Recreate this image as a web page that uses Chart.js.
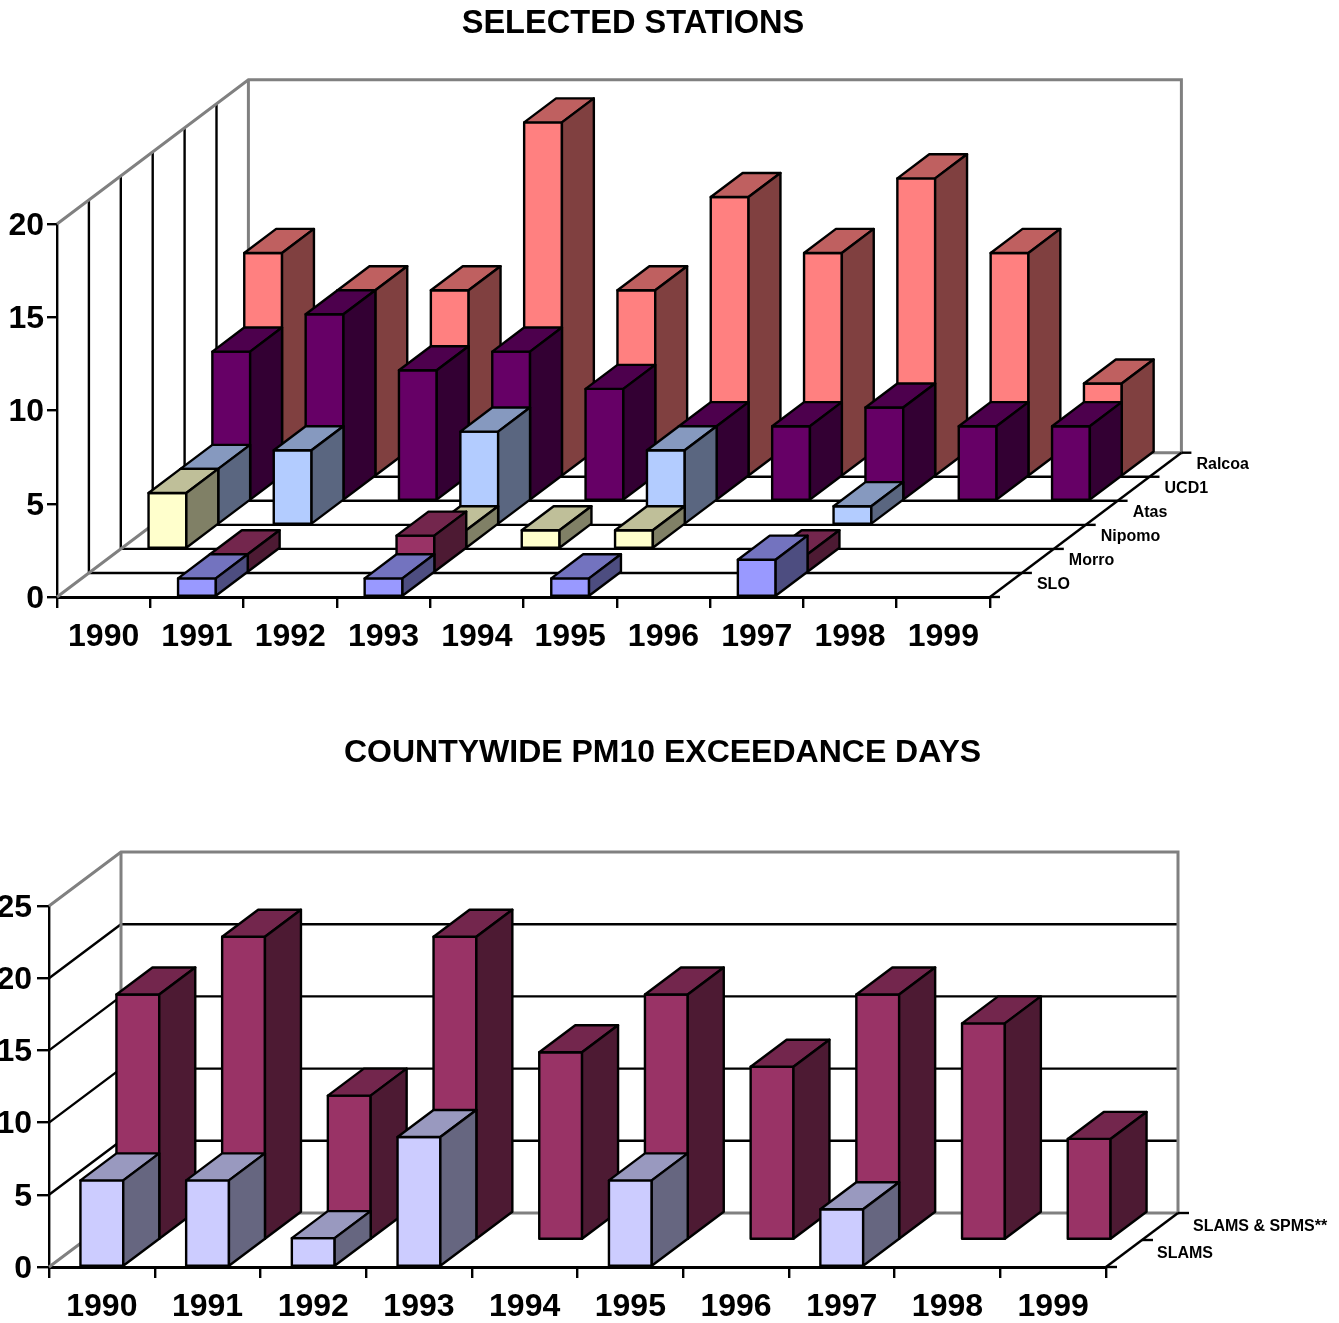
<!DOCTYPE html>
<html>
<head>
<meta charset="utf-8">
<title>PM10 exceedance days</title>
<script src="https://cdn.jsdelivr.net/npm/chart.js@4"></script>
<style>
  html, body { margin: 0; padding: 0; background: #fff; overflow: hidden; }
  body { position: relative; width: 1339px; height: 1323px; }
  canvas { position: absolute; display: block; }
  #stations { left: 0; top: 0; }
  #countywide { left: -8px; top: 680px; }
</style>
</head>
<body>
<canvas id="stations" width="1266" height="680"></canvas>
<canvas id="countywide" width="1341" height="643"></canvas>

<script>
// ===================== DATA =====================
const years = ['1990', '1991', '1992', '1993', '1994', '1995', '1996', '1997', '1998', '1999'];

const sloDays    = [null, 1, null, 1, null, 1, null, 2, null, null];
const morroDays  = [null, 1, null, 2, null, null, null, 1, null, null];
const nipomoDays = [3, null, null, 1, 1, 1, null, null, null, null];
const atasDays   = [3, 4, null, 5, null, 4, null, 1, null, null];
const ucd1Days   = [8, 10, 7, 8, 6, 4, 4, 5, 4, 4];
const ralcoaDays = [12, 10, 10, 19, 10, 15, 12, 16, 12, 5];

const slamsDays     = [6, 6, 2, 9, null, 6, null, 4, null, null];
const slamsSpmsDays = [17, 21, 10, 21, 13, 17, 12, 17, 15, 7];

// ===================== STYLE =====================
const FONT_FAMILY = '"Liberation Sans", Arial, sans-serif';
const BLACK = '#000000';
const WALL_GRAY = '#808080';
const LINE_WIDTH = 2.4;

Chart.defaults.font.family = FONT_FAMILY;
Chart.defaults.font.weight = 'bold';
Chart.defaults.color = BLACK;

function shade(hex, factor) {
  const n = parseInt(hex.slice(1), 16);
  const r = Math.round((n >> 16 & 255) * factor);
  const g = Math.round((n >> 8 & 255) * factor);
  const b = Math.round((n & 255) * factor);
  return `rgb(${r},${g},${b})`;
}

function strokeLine(ctx, points, color, width) {
  ctx.beginPath();
  points.forEach((p, i) => (i ? ctx.lineTo(p[0], p[1]) : ctx.moveTo(p[0], p[1])));
  ctx.strokeStyle = color;
  ctx.lineWidth = width;
  ctx.stroke();
}

function fillFace(ctx, points, color) {
  ctx.beginPath();
  points.forEach((p, i) => (i ? ctx.lineTo(p[0], p[1]) : ctx.moveTo(p[0], p[1])));
  ctx.closePath();
  ctx.fillStyle = color;
  ctx.fill();
  ctx.strokeStyle = BLACK;
  ctx.lineWidth = LINE_WIDTH;
  ctx.lineJoin = 'round';
  ctx.stroke();
}

// ===================== 3D PLUGIN =====================
// walls and depth axis behind the bars, every bar redrawn as a box from its BarElement
const box3d = {
  id: 'box3d',

  beforeDatasetsDraw(chart, args, opts) {
    const ctx = chart.ctx;
    const { left, right, top, bottom } = chart.chartArea;
    const n = chart.data.datasets.length;
    const dx = opts.dx;
    const dy = opts.dy;
    const backX = left + n * dx;
    const backRight = right + n * dx;
    const backTop = top - n * dy;
    const backBottom = bottom - n * dy;

    ctx.save();

    // lines across the walls at each value
    if (opts.valueGrid) {
      chart.scales.y.ticks.forEach(tick => {
        if (tick.value === 0 || tick.value === chart.scales.y.max) return;
        const y = chart.scales.y.getPixelForValue(tick.value);
        strokeLine(ctx, [[left, y], [backX, y - n * dy], [backRight, y - n * dy]], BLACK, LINE_WIDTH);
      });
    }

    // lines at each row of the depth axis
    if (opts.depthGrid) {
      for (let d = 1; d < n; d++) {
        const x = left + d * dx;
        const y = bottom - d * dy;
        strokeLine(ctx, [[x, top - d * dy], [x, y], [right + d * dx, y]], BLACK, LINE_WIDTH);
      }
    }

    // wall outline
    strokeLine(ctx, [[left, bottom], [backX, backBottom], [backRight, backBottom], [backRight, backTop], [backX, backTop], [left, top]], WALL_GRAY, 3);
    strokeLine(ctx, [[backX, backTop], [backX, backBottom]], WALL_GRAY, 3);

    // depth axis with ticks and row names
    strokeLine(ctx, [[right, bottom], [backRight, backBottom]], BLACK, LINE_WIDTH);
    for (let d = 0; d <= n; d++) {
      const x = right + d * dx;
      const y = bottom - d * dy;
      strokeLine(ctx, [[x, y], [x + opts.tick, y]], BLACK, LINE_WIDTH);
    }
    ctx.font = 'bold 16px ' + FONT_FAMILY;
    ctx.fillStyle = BLACK;
    ctx.textAlign = 'left';
    ctx.textBaseline = 'middle';
    chart.data.datasets.forEach((ds, d) => {
      ctx.fillText(ds.label, right + (d + 0.5) * dx + opts.labelGap, bottom - (d + 0.5) * dy);
    });

    ctx.restore();
  },

  beforeDatasetDraw(chart, args, opts) {
    const ctx = chart.ctx;
    const d = args.index;
    const ds = chart.data.datasets[d];
    const dx = opts.dx;
    const dy = opts.dy;

    ctx.save();
    args.meta.data.forEach((bar, i) => {
      if (ds.data[i] === null) return;
      const x0 = bar.x - bar.width / 2 + d * dx;
      const x1 = bar.x + bar.width / 2 + d * dx;
      const yT = bar.y - d * dy;
      const yB = bar.base - d * dy;
      const color = ds.backgroundColor;

      fillFace(ctx, [[x0, yT], [x1, yT], [x1, yB], [x0, yB]], color);
      fillFace(ctx, [[x0, yT], [x0 + dx, yT - dy], [x1 + dx, yT - dy], [x1, yT]], shade(color, 0.75));
      fillFace(ctx, [[x1, yT], [x1 + dx, yT - dy], [x1 + dx, yB - dy], [x1, yB]], shade(color, 0.5));
    });
    ctx.restore();

    return false;
  }
};

// ===================== BASE =====================
function createChart(id, cfg) {
  return new Chart(document.getElementById(id), {
    type: 'bar',
    data: { labels: years, datasets: cfg.datasets },
    plugins: [box3d],
    options: {
      responsive: false,
      animation: false,
      events: [],
      layout: { autoPadding: false },
      datasets: { bar: { grouped: false, categoryPercentage: 1, barPercentage: 0.405 } },
      plugins: {
        legend: { display: false },
        tooltip: { enabled: false },
        title: {
          display: true,
          text: cfg.title,
          color: BLACK,
          font: { size: cfg.titleSize, weight: 'bold', lineHeight: 1 },
          padding: cfg.titlePadding
        },
        box3d: cfg.box
      },
      scales: {
        x: {
          afterFit: scale => { scale.height = cfg.xAxisHeight; },
          border: { color: BLACK, width: 3 },
          grid: { drawOnChartArea: false, color: BLACK, lineWidth: LINE_WIDTH, tickLength: 11 },
          ticks: { font: { size: 32, weight: 'bold' }, color: BLACK, padding: 10, autoSkip: false, maxRotation: 0 }
        },
        y: {
          min: 0,
          max: cfg.yMax,
          afterFit: scale => { scale.width = cfg.yAxisWidth; },
          border: { color: BLACK, width: LINE_WIDTH },
          grid: { drawOnChartArea: false, color: BLACK, lineWidth: LINE_WIDTH, tickLength: cfg.yTick },
          ticks: { stepSize: 5, font: { size: 32, weight: 'bold' }, color: BLACK, padding: cfg.yPad, labelOffset: 2 }
        },
        // empty axis that keeps the room for the depth axis, the title stays centred on the canvas
        depthRoom: {
          type: 'linear',
          axis: 'y',
          position: 'right',
          afterFit: scale => { scale.width = cfg.rightRoom; },
          border: { display: false },
          grid: { display: false },
          ticks: { display: false }
        }
      }
    }
  });
}

// ===================== CHARTS =====================
createChart('stations', {
  title: 'SELECTED STATIONS',
  titleSize: 32.6,
  titlePadding: { top: 8, bottom: 183.4 },
  rightRoom: 276,
  xAxisHeight: 83,
  yAxisWidth: 57,
  yTick: 10,
  yPad: 3,
  yMax: 20,
  box: { dx: 31.9, dy: 24.05, tick: 10, labelGap: 31, depthGrid: true, valueGrid: false },
  datasets: [
    { label: 'SLO', data: sloDays, backgroundColor: '#9999FF' },
    { label: 'Morro', data: morroDays, backgroundColor: '#993366' },
    { label: 'Nipomo', data: nipomoDays, backgroundColor: '#FFFFCC' },
    { label: 'Atas', data: atasDays, backgroundColor: '#B3CCFF' },
    { label: 'UCD1', data: ucd1Days, backgroundColor: '#660066' },
    { label: 'Ralcoa', data: ralcoaDays, backgroundColor: '#FF8080' }
  ]
});

createChart('countywide', {
  title: 'COUNTYWIDE PM10 EXCEEDANCE DAYS',
  titleSize: 32,
  titlePadding: { top: 57, bottom: 137 },
  rightRoom: 227,
  xAxisHeight: 56,
  yAxisWidth: 57,
  yTick: 12,
  yPad: 5,
  yMax: 25,
  box: { dx: 36, dy: 27, tick: 11, labelGap: 33, depthGrid: false, valueGrid: true },
  datasets: [
    { label: 'SLAMS', data: slamsDays, backgroundColor: '#CCCCFF' },
    { label: 'SLAMS & SPMS**', data: slamsSpmsDays, backgroundColor: '#993366' }
  ]
});
</script>
</body>
</html>
